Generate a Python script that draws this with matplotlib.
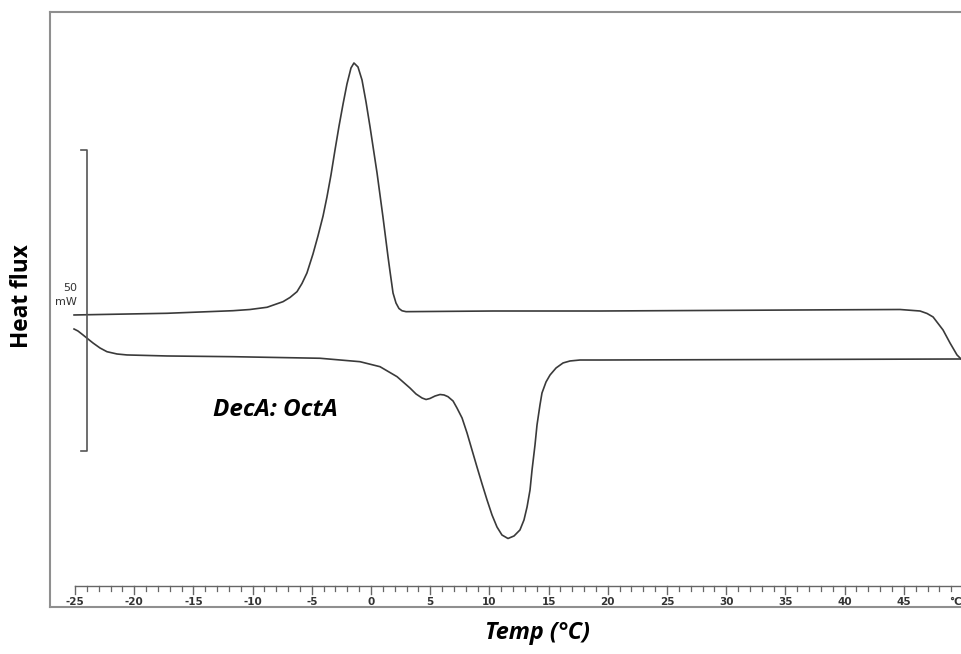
import numpy as np
import matplotlib
matplotlib.use("Agg")
import matplotlib.pyplot as plt

# cooling run (exotherm up), temp in degC, heat flux in mW (arbitrary offset)
cool_T = [-25.08, -17.23, -11.66, -10.22, -8.78, -7.43, -6.84, -6.25, -5.83, -5.41,
          -4.90, -4.48, -4.05, -3.72, -3.38, -3.04, -2.70, -2.36, -2.03, -1.69,
          -1.44, -1.10, -0.76, -0.42, -0.08, 0.51, 1.01, 1.44, 1.60, 1.86,
          2.11, 2.36, 2.62, 2.96, 10.30, 19.34, 36.23, 44.68, 46.37, 46.96,
          47.47, 48.31, 48.90, 49.49, 49.92]
cool_q = [14.12, 14.40, 14.83, 15.03, 15.40, 16.33, 17.03, 17.99, 19.35, 21.10,
          24.25, 27.24, 30.56, 33.72, 37.38, 41.53, 45.51, 49.17, 52.49, 55.15,
          55.98, 55.32, 53.16, 49.50, 45.35, 37.71, 30.40, 23.75, 21.43, 17.77,
          16.11, 15.20, 14.82, 14.67, 14.78, 14.78, 14.95, 15.03, 14.78, 14.37,
          13.79, 11.63, 9.47, 7.48, 6.64]

# heating run (endotherm down)
heat_T = [-25.08, -24.75, -24.32, -23.90, -23.48, -22.89, -22.30, -21.45, -20.61, -17.23,
          -11.66, -4.31, -0.93, 0.76, 2.20, 3.29, 3.80, 4.31, 4.65, 4.98,
          5.41, 5.83, 6.17, 6.50, 6.93, 7.26, 7.69, 8.11, 8.53, 8.95,
          9.38, 9.80, 10.22, 10.64, 11.06, 11.57, 12.08, 12.58, 12.92, 13.18,
          13.43, 13.60, 13.85, 14.02, 14.27, 14.44, 14.78, 15.12, 15.63, 16.22,
          16.81, 17.65, 19.34, 36.23, 49.92]
heat_q = [11.79, 11.46, 10.80, 10.13, 9.47, 8.64, 8.02, 7.64, 7.48, 7.31,
          7.19, 6.93, 6.36, 5.53, 3.87, 1.99, 1.00, 0.33, 0.08, 0.25,
          0.66, 0.91, 0.83, 0.55, -0.17, -1.33, -2.99, -5.48, -8.31, -11.13,
          -13.95, -16.61, -19.10, -21.10, -22.43, -23.01, -22.59, -21.59, -19.93, -17.77,
          -14.95, -11.63, -7.48, -4.15, -0.83, 1.16, 2.99, 4.15, 5.32, 6.15,
          6.48, 6.64, 6.64, 6.73, 6.81]

tick_major = list(range(-25, 50, 5))
tick_labels = [str(t) for t in tick_major]

fig = plt.figure(figsize=(9.62, 6.54), dpi=100)
ax = fig.add_axes([50/962, 47/654, 925/962, 595/654])
ax.set_xlim(-27.11, 51.01)
ax.set_ylim(-34.39, 64.45)

for s in ['left', 'top', 'bottom']:
	ax.spines[s].set_color('#8f8f8f')
	ax.spines[s].set_linewidth(1.5)
ax.spines['right'].set_visible(False)
ax.set_xticks([])
ax.set_yticks([])

ax.plot(cool_T, cool_q, color='#3a3a3a', lw=1.2, solid_joinstyle='round')
ax.plot(heat_T, heat_q, color='#3a3a3a', lw=1.2, solid_joinstyle='round')

# 50 mW scale bar
ax.plot([-24.5, -24.0, -24.0, -24.5], [41.53, 41.53, -8.47, -8.47], color='#555555', lw=1.2)
ax.text(-25.4, 18.6, '50', fontsize=8, ha='center', va='center', color='#333333')
ax.text(-25.8, 16.3, 'mW', fontsize=8, ha='center', va='center', color='#333333')

# temperature ruler
ax.plot([-25, 51], [-30.9, -30.9], color='#666666', lw=1.0)
for t in range(-25, 51):
	if t % 5 == 0:
		ax.plot([t, t], [-30.9, -32.3], color='#666666', lw=1.0)
	else:
		ax.plot([t, t], [-30.9, -31.7], color='#666666', lw=0.9)
for t, lab in zip(tick_major, tick_labels):
	ax.text(t, -33.6, lab, fontsize=7.5, ha='center', va='center', color='#333333', fontweight='bold')
ax.text(49.88, -33.6, '°C', fontsize=7.5, ha='right', va='center', color='#333333', fontweight='bold')

ax.text(-13.34, -1.66, 'DecA: OctA', fontsize=17.5, fontweight='bold', style='italic',
        family=['Open Sans', 'DejaVu Sans'], ha='left', va='center')

fig.text(537/962, 1 - 633/654, 'Temp (°C)', fontsize=16.8, fontweight='bold', style='italic',
         family=['Open Sans', 'DejaVu Sans'], ha='center', va='center')
fig.text(22/962, 1 - 296/654, 'Heat flux', fontsize=16.3, fontweight='bold', rotation=90,
         family=['Open Sans', 'DejaVu Sans'], ha='center', va='center')

fig.savefig('out.png', dpi=100)
